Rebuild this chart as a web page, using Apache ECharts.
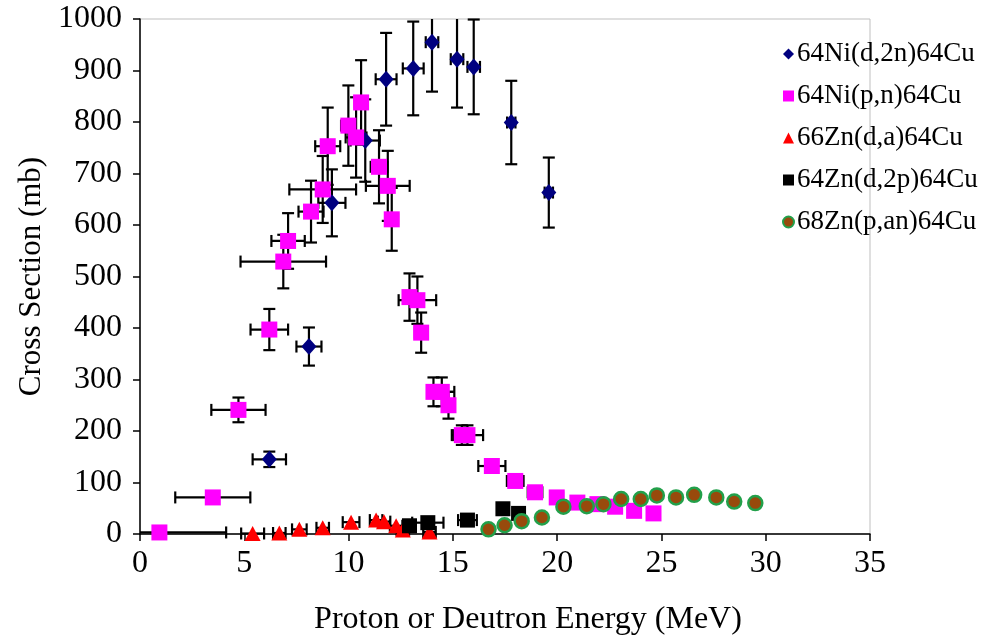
<!DOCTYPE html>
<html>
<head>
<meta charset="utf-8">
<script src="https://cdn.jsdelivr.net/npm/echarts@6/dist/echarts.min.js"></script>
<style>
html,body{margin:0;padding:0;background:#fff;}
#chart{width:989px;height:642px;}
</style>
</head>
<body>
<div id="chart"></div>
<script>
// 64Ni(d,2n)64Cu
const niDnE      = [6.2, 8.1, 9.2, 10.8, 11.8, 13.1, 14.0, 15.2, 16.0, 17.8, 19.6];
const niDnSigma  = [145, 364, 643, 764, 883, 904, 955, 922, 907, 799, 663];
const niDnXerr   = [0.8, 0.6, 0.65, 0.7, 0.5, 0.5, 0.3, 0.3, 0.3, 0.2, 0.2];
const niDnYerr   = [15, 37, 65, 80, 90, 91, 96, 94, 92, 81, 68];

// 64Ni(p,n)64Cu
const niPnE      = [0.93, 3.49, 4.72, 6.2, 6.87, 7.1, 8.2, 8.76, 9.0, 9.99, 10.36, 10.6, 11.46, 11.88, 12.07, 12.92, 13.3, 13.48, 14.07, 14.47, 14.79, 15.43, 15.7, 16.87, 17.99, 18.94, 19.98, 20.97, 21.93, 22.78, 23.69, 24.62];
const niPnSigma  = [3, 71, 241, 397, 529, 569, 626, 669, 753, 793, 770, 838, 713, 676, 611, 460, 454, 391, 276, 276, 250, 192, 192, 132, 103, 81, 71, 61, 58, 53, 45, 40];
const niPnXerr   = [3.2, 1.8, 1.3, 0.9, 2.05, 0.8, 0.6, 1.6, 0.6, 0.35, 0.5, 0.3, 0.4, 1.05, 0.3, 0.3, 0.9, 0.3, 0.3, 0.6, 0.3, 0.4, 0.75, 0.65, 0.4, 0.35, 0.3, 0, 0, 0, 0, 0];
const niPnYerr   = [0, 0, 24, 40, 52, 54, 60, 65, 75, 78, 78, 82, 71, 68, 61, 46, 46, 39, 28, 28, 26, 19, 19, 0, 0, 0, 0, 0, 0, 0, 0, 0];

// 66Zn(d,a)64Cu
const znDaE      = [5.4, 6.68, 7.64, 8.76, 10.12, 11.32, 11.7, 12.28, 12.6, 13.88];
const znDaSigma  = [1, 2, 9, 12, 23, 27, 24, 16, 8, 4];
const znDaXerr   = [0.55, 0.3, 0.35, 0.3, 0.4, 0.3, 0.3, 0.3, 0.3, 0.3];

// 64Zn(d,2p)64Cu
const znD2pE     = [12.92, 13.8, 15.7, 17.4, 18.15];
const znD2pSigma = [16, 22, 27, 49, 40];
const znD2pXerr  = [0.3, 0.75, 0.45, 0.2, 0.2];

// 68Zn(p,an)64Cu
const znPanE     = [16.71, 17.48, 18.3, 19.27, 20.3, 21.42, 22.22, 23.07, 24.01, 24.78, 25.7, 26.57, 27.63, 28.49, 29.5];
const znPanSigma = [9, 17, 25, 32, 53, 54, 58, 68, 68, 75, 71, 76, 71, 63, 60];

const seriesNames = ['64Ni(d,2n)64Cu', '64Ni(p,n)64Cu', '66Zn(d,a)64Cu', '64Zn(d,2p)64Cu', '68Zn(p,an)64Cu'];
const xTicks = [0, 5, 10, 15, 20, 25, 30, 35];
const yTicks = [0, 100, 200, 300, 400, 500, 600, 700, 800, 900, 1000];

const FONT = '"Liberation Serif", "Times New Roman", serif';
const X_MIN = 0, X_MAX = 35, Y_MIN = 0, Y_MAX = 1000;

function pts(xs, ys) { return xs.map((x, i) => [x, ys[i]]); }
function errPts(xs, ys, xe, ye) {
  return xs.map((x, i) => [x, ys[i], xe ? xe[i] : 0, ye ? ye[i] : 0]);
}

function renderErr(params, api) {
  const x = api.value(0), y = api.value(1), dx = api.value(2), dy = api.value(3);
  const cap = 6;
  const style = { stroke: '#000', lineWidth: 2.2, fill: null };
  const children = [];
  if (dy > 0) {
    const lo = Math.max(Y_MIN, y - dy), hi = Math.min(Y_MAX, y + dy);
    const p1 = api.coord([x, lo]), p2 = api.coord([x, hi]);
    children.push({ type: 'line', shape: { x1: p1[0], y1: p1[1], x2: p2[0], y2: p2[1] }, style });
    if (lo === y - dy) children.push({ type: 'line', shape: { x1: p1[0] - cap, y1: p1[1], x2: p1[0] + cap, y2: p1[1] }, style });
    if (hi === y + dy) children.push({ type: 'line', shape: { x1: p2[0] - cap, y1: p2[1], x2: p2[0] + cap, y2: p2[1] }, style });
  }
  if (dx > 0) {
    const lo = Math.max(X_MIN, x - dx), hi = Math.min(X_MAX, x + dx);
    const p1 = api.coord([lo, y]), p2 = api.coord([hi, y]);
    children.push({ type: 'line', shape: { x1: p1[0], y1: p1[1], x2: p2[0], y2: p2[1] }, style });
    if (lo === x - dx) children.push({ type: 'line', shape: { x1: p1[0], y1: p1[1] - cap, x2: p1[0], y2: p1[1] + cap }, style });
    if (hi === x + dx) children.push({ type: 'line', shape: { x1: p2[0], y1: p2[1] - cap, x2: p2[0], y2: p2[1] + cap }, style });
  }
  return { type: 'group', children };
}

function errSeries(name, data) {
  return {
    name: name, type: 'custom', renderItem: renderErr, data: data,
    encode: { x: 0, y: 1 }, silent: true, animation: false, clip: false
  };
}

const chart = echarts.init(document.getElementById('chart'), null, { renderer: 'canvas' });

const option = {
  backgroundColor: '#ffffff',
  animation: false,
  grid: { left: 140, right: 119, top: 19, bottom: 108, show: true, borderColor: '#bfbfbf', borderWidth: 1, backgroundColor: 'transparent' },
  legend: {
    data: seriesNames.map((n, i) => ({
      name: n,
      icon: ['diamond', 'rect', 'triangle', 'rect', 'circle'][i]
    })),
    orient: 'vertical',
    left: 777, top: 34,
    itemWidth: 11, itemHeight: 11, itemGap: 12,
    textStyle: { fontFamily: FONT, fontSize: 27, color: '#000', lineHeight: 30, padding: [0, 0, 0, -2] },
    selectedMode: false
  },
  xAxis: {
    type: 'value', min: X_MIN, max: X_MAX, interval: 5,
    name: 'Proton or Deutron Energy (MeV)', nameLocation: 'middle', nameGap: 70,
    nameTextStyle: { fontFamily: FONT, fontSize: 32, color: '#000', verticalAlign: 'top', padding: [0, 0, 0, 46] },
    axisLine: { show: true, onZero: false, lineStyle: { color: '#000', width: 1.5 } },
    axisTick: { show: true, inside: false, length: 7, lineStyle: { color: '#000', width: 1.5 } },
    axisLabel: { fontFamily: FONT, fontSize: 32, color: '#000', margin: 14,
      formatter: v => xTicks.indexOf(v) >= 0 ? String(v) : '' },
    splitLine: { show: false }
  },
  yAxis: {
    type: 'value', min: Y_MIN, max: Y_MAX, interval: 100,
    name: 'Cross Section (mb)', nameLocation: 'middle', nameGap: 92, nameRotate: 90,
    nameTextStyle: { fontFamily: FONT, fontSize: 31, color: '#000' },
    axisLine: { show: true, onZero: false, lineStyle: { color: '#000', width: 1.5 } },
    axisTick: { show: true, inside: false, length: 7, lineStyle: { color: '#000', width: 1.5 } },
    axisLabel: { fontFamily: FONT, fontSize: 32, color: '#000', margin: 18,
      formatter: v => yTicks.indexOf(v) >= 0 ? String(v) : '' },
    splitLine: { show: false }
  },
  series: [
    errSeries('err1', errPts(niDnE, niDnSigma, niDnXerr, niDnYerr)),
    {
      name: seriesNames[0], type: 'scatter', data: pts(niDnE, niDnSigma),
      symbol: 'diamond', symbolSize: [15, 17],
      itemStyle: { color: '#000080', opacity: 1 }
    },
    errSeries('err2', errPts(niPnE, niPnSigma, niPnXerr, niPnYerr)),
    {
      name: seriesNames[1], type: 'scatter', data: pts(niPnE, niPnSigma),
      symbol: 'rect', symbolSize: 16,
      itemStyle: { color: '#ff00ff', opacity: 1 }
    },
    errSeries('err3', errPts(znDaE, znDaSigma, znDaXerr, null)),
    {
      name: seriesNames[2], type: 'scatter', data: pts(znDaE, znDaSigma),
      symbol: 'triangle', symbolSize: [16, 15],
      itemStyle: { color: '#ff0000', opacity: 1 }
    },
    errSeries('err4', errPts(znD2pE, znD2pSigma, znD2pXerr, null)),
    {
      name: seriesNames[3], type: 'scatter', data: pts(znD2pE, znD2pSigma),
      symbol: 'rect', symbolSize: 15,
      itemStyle: { color: '#000000', opacity: 1 }
    },
    {
      name: seriesNames[4], type: 'scatter', data: pts(znPanE, znPanSigma),
      symbol: 'circle', symbolSize: 14,
      itemStyle: { color: '#984a0c', borderColor: '#22a04a', borderWidth: 2.5, opacity: 1 }
    }
  ]
};
chart.setOption(option);
</script>
</body>
</html>
